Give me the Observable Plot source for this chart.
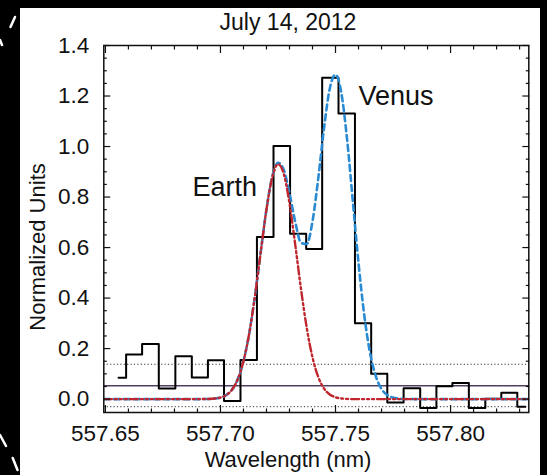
<!DOCTYPE html>
<html><head><meta charset="utf-8">
<script src="https://cdn.jsdelivr.net/npm/d3@7"></script>
<script src="https://cdn.jsdelivr.net/npm/@observablehq/plot@0.6"></script>
<style>
html,body{margin:0;padding:0;background:#000;}
#wrap{position:relative;width:547px;height:475px;overflow:hidden;background:#000;font-family:"Liberation Sans",Arial,sans-serif;}
#panel{position:absolute;left:20px;top:8px;width:520px;height:467px;background:#fff;}
#chart,#over{position:absolute;left:0;top:0;}
</style></head><body>
<div id="wrap"><div id="panel"></div><div id="chart"></div><svg id="over" width="547" height="475"></svg></div>
<script>
// Observed spectrum (binned)
const wavelength = [557.6557,557.6623,557.6696,557.6768,557.6840,557.6911,557.6980,557.7051,557.7123,557.7194,
  557.7267,557.7338,557.7407,557.7477,557.7549,557.7620,557.7690,557.7760,557.7832,557.7904,
  557.7973,557.8043,557.8116,557.8186,557.8255,557.8325];
const intensity = [0.085,0.177,0.218,0.042,0.170,0.086,0.154,-0.007,0.155,0.642,
  1.002,0.655,0.594,1.272,1.131,0.300,0.100,-0.013,0.043,-0.035,
  0.051,0.064,-0.035,0.001,0.025,-0.030];
// Fitted curves sampled along wavelength
const fitWave = [557.6493,557.6900,557.6950,557.6975,557.7000,557.7025,557.7050,557.7075,557.7100,557.7125,
  557.7150,557.7175,557.7200,557.7225,557.7250,557.7275,557.7300,557.7325,557.7350,557.7375,
  557.7400,557.7425,557.7450,557.7475,557.7500,557.7525,557.7550,557.7575,557.7600,557.7625,
  557.7650,557.7675,557.7700,557.7725,557.7750,557.7775,557.7800,557.7900,557.8340];
const earthFit = [0,0,0.0007,0.0022,0.0062,0.0159,0.0372,0.0785,0.150,0.260,
  0.409,0.582,0.751,0.878,0.930,0.892,0.775,0.611,0.436,0.282,
  0.165,0.0877,0.0422,0.0184,0.0073,0.0026,0.0008,0,0,0,
  0,0,0,0,0,0,0,0,0];
const totalFit = [0,0,0.0007,0.0022,0.0062,0.0159,0.0372,0.0785,0.150,0.260,
  0.409,0.582,0.752,0.880,0.936,0.908,0.815,0.702,0.619,0.614,
  0.704,0.874,1.072,1.229,1.285,1.214,1.031,0.786,0.539,0.332,
  0.183,0.091,0.040,0.016,0.006,0.002,0.0005,0,0];
// Background level and +/- spread
const meanLevel = [0.053];
const spreadLevels = [0.138, -0.030];
// Annotations
const labelNames = ["Earth","Venus"];
const labelWave = [557.6878, 557.7600];
const labelValue = [0.838, 1.197];
// Ticks
const xMajor = [557.65,557.70,557.75,557.80];
const xMinor = [557.66,557.67,557.68,557.69,557.71,557.72,557.73,557.74,557.76,557.77,557.78,557.79,557.81,557.82,557.83];
const yMajor = [0,0.2,0.4,0.6,0.8,1.0,1.2,1.4];
const yMinor = [0.05,0.1,0.15,0.25,0.3,0.35,0.45,0.5,0.55,0.65,0.7,0.75,0.85,0.9,0.95,1.05,1.1,1.15,1.25,1.3,1.35];

const hist = wavelength.map((w,i)=>({w, v:intensity[i]}));
const fits = fitWave.map((w,i)=>({w, e:earthFit[i], t:totalFit[i]}));
const labels = labelNames.map((n,i)=>({n, w:labelWave[i], v:labelValue[i]}));

const font = '"Liberation Sans", Arial, sans-serif';
const empty = () => "";
const plot = Plot.plot({
  width: 547, height: 475,
  marginLeft: 103.3, marginRight: 18.7, marginTop: 45, marginBottom: 63,
  style: {background: "transparent", fontFamily: font, color: "#111", overflow: "visible"},
  x: {domain: [557.6493, 557.834]},
  y: {domain: [-0.053, 1.4]},
  marks: [
    Plot.ruleY(spreadLevels, {stroke: "#333", strokeWidth: 1, strokeDasharray: "1.2,2.2"}),
    Plot.ruleY(meanLevel, {stroke: "#4e4060", strokeWidth: 1.3}),
    Plot.line(hist, {x: "w", y: "v", curve: "step", stroke: "#000", strokeWidth: 2}),
    Plot.line(fits, {x: "w", y: "t", curve: "monotone-x", stroke: "#2b8bd2", strokeWidth: 2.6, strokeDasharray: "6,4", clip: true}),
    Plot.line(fits, {x: "w", y: "e", curve: "monotone-x", stroke: "#c0262d", strokeWidth: 2.4, strokeDasharray: "8,3,2,3,2,3,2,3", clip: true}),
    Plot.text(labels, {x: "w", y: "v", text: "n", textAnchor: "start", lineAnchor: "middle", fontSize: 27, fill: "#111"}),
    Plot.frame({stroke: "#111", strokeWidth: 1.5}),
    Plot.axisX({ticks: xMajor, anchor: "bottom", tickSize: -7, tickFormat: empty, label: null, strokeWidth: 1.2}),
    Plot.axisX({ticks: xMinor, anchor: "bottom", tickSize: -3.5, tickFormat: empty, label: null, strokeWidth: 1.2}),
    Plot.axisX({ticks: xMajor, anchor: "top", tickSize: -7, tickFormat: empty, label: null, strokeWidth: 1.2}),
    Plot.axisX({ticks: xMinor, anchor: "top", tickSize: -3.5, tickFormat: empty, label: null, strokeWidth: 1.2}),
    Plot.axisY({ticks: yMajor, anchor: "left", tickSize: -7, tickFormat: empty, label: null, strokeWidth: 1.2}),
    Plot.axisY({ticks: yMinor, anchor: "left", tickSize: -3.5, tickFormat: empty, label: null, strokeWidth: 1.2}),
    Plot.axisY({ticks: yMajor, anchor: "right", tickSize: -7, tickFormat: empty, label: null, strokeWidth: 1.2}),
    Plot.axisY({ticks: yMinor, anchor: "right", tickSize: -3.5, tickFormat: empty, label: null, strokeWidth: 1.2}),
    Plot.axisX({ticks: xMajor, anchor: "bottom", tickSize: 0, tickPadding: 13, tickFormat: d3.format(".2f"), label: null, fontSize: 22.5, fill: "#111"}),
    Plot.axisY({ticks: yMajor, anchor: "left", tickSize: 0, tickPadding: 14.5, tickFormat: d3.format(".1f"), label: null, fontSize: 22.5, fill: "#111"})
  ]
});
document.getElementById("chart").appendChild(plot);

// Titles and axis labels, plus corner marks of the original frame
const svg = d3.select("#over");
svg.append("text").attr("x", 288).attr("y", 30).attr("text-anchor", "middle")
  .attr("font-family", font).attr("font-size", 23).attr("fill", "#111").text("July 14, 2012");
svg.append("text").attr("x", 288).attr("y", 467).attr("text-anchor", "middle")
  .attr("font-family", font).attr("font-size", 22).attr("fill", "#111").text("Wavelength (nm)");
svg.append("text").attr("transform", "translate(45,247) rotate(-90)").attr("text-anchor", "middle")
  .attr("font-family", font).attr("font-size", 22).attr("fill", "#111").text("Normalized Units");
const marks = [[15,17,10.5,27],[0,40,2,45],[0,435,6,446],[12.7,458,17.5,470]];
svg.selectAll("line.m").data(marks).join("line").attr("class","m")
  .attr("x1",d=>d[0]).attr("y1",d=>d[1]).attr("x2",d=>d[2]).attr("y2",d=>d[3])
  .attr("stroke","#fff").attr("stroke-width",2.5).attr("stroke-linecap","round");
</script>
</body></html>
